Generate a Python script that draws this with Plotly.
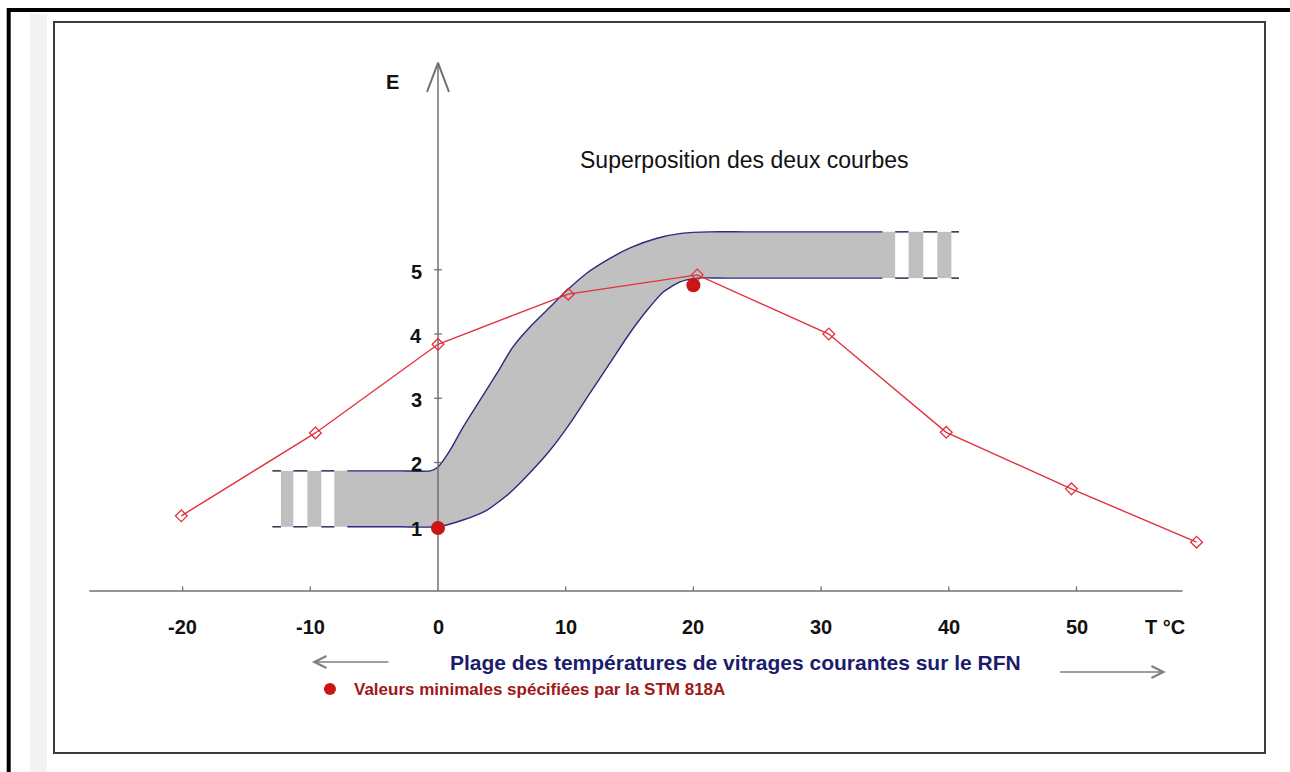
import plotly.graph_objects as go

# ---- data -------------------------------------------------------------
# Temperature ticks (°C) and E tick values
t_ticks = [-20, -10, 0, 10, 20, 30, 40, 50]
t_tick_labels = ["-20", "-10", "0", "10", "20", "30", "40", "50"]
e_ticks = [1, 2, 3, 4, 5]
e_tick_labels = ["1", "2", "3", "4", "5"]

# Red curve (open diamonds)
red_T = [-20.1, -9.6, 0.0, 10.2, 20.3, 30.6, 39.8, 49.6, 59.4]
red_E = [1.17, 2.46, 3.84, 4.62, 4.92, 4.00, 2.47, 1.59, 0.76]

# Minimum values specified by STM 818A (filled dots)
stm_T = [0.0, 20.0]
stm_E = [0.98, 4.76]

# Grey band: upper and lower boundary curves
upper_T = [-3.0, -0.6, 0.0, 0.94, 1.96, 3.29, 4.62, 5.87, 7.2, 8.77, 10.1, 11.67, 13.23, 15.04,
           17.15, 19.19, 21.3, 24.0]
upper_E = [1.87, 1.87, 1.93, 2.19, 2.55, 2.97, 3.39, 3.80, 4.11, 4.42, 4.68, 4.95, 5.15, 5.34,
           5.49, 5.57, 5.59, 5.59]
lower_T = [-3.0, 0.0, 1.96, 3.84, 5.64, 7.2, 8.77, 10.34, 11.9, 13.47, 15.04, 16.37, 17.62, 18.95,
           20.28, 22.5]
lower_E = [1.0, 1.0, 1.105, 1.26, 1.53, 1.84, 2.19, 2.61, 3.08, 3.55, 4.02, 4.37, 4.65, 4.81,
           4.87, 4.87]

# Flat levels of the band at both ends
band_left_low, band_left_high = 1.0, 1.87
band_right_low, band_right_high = 4.87, 5.59

# Band extents: solid border limits, main fill limits, striped ends
border_start, border_end = -7.1, 34.8
fill_start, fill_end = -8.12, 35.8
left_grey_stripes = [(-12.3, -11.33), (-10.23, -9.14)]
left_white_stripes = [(-12.97, -12.3), (-11.33, -10.23), (-9.14, -8.12)]
right_grey_stripes = [(36.85, 38.0), (39.1, 40.2)]
right_white_stripes = [(35.8, 36.85), (38.0, 39.1), (40.2, 40.8)]

# ---- layout geometry --------------------------------------------------
W, H = 1290, 772
ML, MR, MT, MB = 54, 25, 22, 19
X_RANGE = [-30.07, 64.76]
Y_RANGE = [-2.521, 8.856]
X_AXIS_SPAN = (-27.3, 58.3)
Y_AXIS_TOP = 8.22

GREY_FILL = "#c0c0c0"
BORDER = "#2a2a80"
AXIS = "#707070"
RED = "#e3303c"
DOT = "#cc1515"
NAVY_TEXT = "#1c1c6e"
RED_TEXT = "#a01818"
SANS = "Liberation Sans, Arial, sans-serif"
SMOOTH = 0.6

fig = go.Figure()

# main grey body of the band: lower edge, then upper edge filled down to it
body_lo_x = [fill_start] + lower_T + [fill_end]
body_lo_y = [band_left_low] + lower_E + [band_right_low]
body_up_x = [fill_start] + upper_T + [fill_end]
body_up_y = [band_left_high] + upper_E + [band_right_high]
fig.add_trace(go.Scatter(x=body_lo_x, y=body_lo_y, mode="lines",
                         line=dict(width=0, shape="spline", smoothing=SMOOTH),
                         hoverinfo="skip", showlegend=False))
fig.add_trace(go.Scatter(x=body_up_x, y=body_up_y, mode="lines", fill="tonexty",
                         fillcolor=GREY_FILL, line=dict(width=0, shape="spline", smoothing=SMOOTH),
                         hoverinfo="skip", showlegend=False))

# grey stripes at the band ends
for (a, b), lo, hi in ([(s, band_left_low, band_left_high) for s in left_grey_stripes]
                       + [(s, band_right_low, band_right_high) for s in right_grey_stripes]):
    fig.add_trace(go.Scatter(x=[a, b, b, a, a], y=[lo, lo, hi, hi, lo], fill="toself",
                             fillcolor=GREY_FILL, mode="lines", line=dict(width=0),
                             hoverinfo="skip", showlegend=False))

# band borders (solid part)
up_x = [border_start] + upper_T + [border_end]
up_y = [band_left_high] + upper_E + [band_right_high]
lo_x = [border_start] + lower_T + [border_end]
lo_y = [band_left_low] + lower_E + [band_right_low]
for xs, ys in ((up_x, up_y), (lo_x, lo_y)):
    fig.add_trace(go.Scatter(x=xs, y=ys, mode="lines",
                             line=dict(color=BORDER, width=1.4, shape="spline", smoothing=SMOOTH),
                             hoverinfo="skip", showlegend=False))

# dashed border pieces over the white gaps
dx, dy = [], []
for (a, b) in left_white_stripes:
    for lvl in (band_left_low, band_left_high):
        dx += [a, b, None]
        dy += [lvl, lvl, None]
for (a, b) in right_white_stripes:
    for lvl in (band_right_low, band_right_high):
        dx += [a, b, None]
        dy += [lvl, lvl, None]
fig.add_trace(go.Scatter(x=dx, y=dy, mode="lines", line=dict(color="#3a3a5a", width=1.6),
                         hoverinfo="skip", showlegend=False))

# axes drawn as lines through the data scale
fig.add_trace(go.Scatter(x=list(X_AXIS_SPAN), y=[0, 0], mode="lines",
                         line=dict(color=AXIS, width=1.5), hoverinfo="skip", showlegend=False))
fig.add_trace(go.Scatter(x=[0, 0], y=[0, Y_AXIS_TOP], mode="lines",
                         line=dict(color=AXIS, width=1.5), hoverinfo="skip", showlegend=False))
# arrow head on the E axis
fig.add_trace(go.Scatter(x=[-0.86, 0, 0.86], y=[Y_AXIS_TOP - 0.45, Y_AXIS_TOP, Y_AXIS_TOP - 0.45],
                         mode="lines", line=dict(color=AXIS, width=2), hoverinfo="skip",
                         showlegend=False))
# tick marks
tx, ty = [], []
for t in t_ticks:
    if t != 0:
        tx += [t, t, None]
        ty += [0, 0.07, None]
for e in e_ticks:
    tx += [-0.3, 0.3, None]
    ty += [e, e, None]
fig.add_trace(go.Scatter(x=tx, y=ty, mode="lines", line=dict(color=AXIS, width=1.3),
                         hoverinfo="skip", showlegend=False))

# red curve
fig.add_trace(go.Scatter(x=red_T, y=red_E, mode="lines+markers",
                         line=dict(color=RED, width=1.4),
                         marker=dict(symbol="diamond-open", size=9, color=RED,
                                     line=dict(width=1.3, color=RED)),
                         hoverinfo="skip", showlegend=False))

# STM 818A minimum values
fig.add_trace(go.Scatter(x=stm_T, y=stm_E, mode="markers",
                         marker=dict(size=14, color=DOT, line=dict(width=0)),
                         hoverinfo="skip", showlegend=False))

# ---- text --------------------------------------------------------------
ann = []
for t, lab in zip(t_ticks, t_tick_labels):
    ann.append(dict(x=t, y=-0.56, text=lab, showarrow=False, xanchor="center", yanchor="middle",
                    font=dict(family=SANS, size=20, color="#111111", weight="bold")))
ann.append(dict(x=56.9, y=-0.56, text="T °C", showarrow=False, xanchor="center", yanchor="middle",
                font=dict(family=SANS, size=20, color="#111111", weight="bold")))
for e, lab in zip(e_ticks, e_tick_labels):
    ann.append(dict(x=-1.1, y=e - 0.03, text=lab, showarrow=False, xanchor="right", yanchor="middle",
                    font=dict(family=SANS, size=20, color="#111111", weight="bold")))
ann.append(dict(x=-3.6, y=7.92, text="E", showarrow=False, xanchor="center", yanchor="middle",
                font=dict(family=SANS, size=20, color="#111111", weight="bold")))
ann.append(dict(x=24.0, y=6.71, text="Superposition des deux courbes", showarrow=False,
                xanchor="center", yanchor="middle",
                font=dict(family=SANS, size=23, color="#111111")))
ann.append(dict(x=23.3, y=-1.12, text="Plage des températures de vitrages courantes sur le RFN",
                showarrow=False, xanchor="center", yanchor="middle",
                font=dict(family=SANS, size=21, color=NAVY_TEXT, weight="bold")))
ann.append(dict(x=-6.73, y=-1.525, text="Valeurs minimales spécifiées par la STM 818A",
                showarrow=False, xanchor="left", yanchor="middle",
                font=dict(family=SANS, size=17, color=RED_TEXT, weight="bold")))
# range arrows
ann.append(dict(x=-9.87, y=-1.105, ax=-3.76, ay=-1.105, axref="x", ayref="y", xref="x", yref="y",
                text="", showarrow=True, arrowhead=5, arrowsize=1.8, arrowwidth=1.3,
                arrowcolor="#808080"))
ann.append(dict(x=57.0, y=-1.26, ax=48.6, ay=-1.26, axref="x", ayref="y", xref="x", yref="y",
                text="", showarrow=True, arrowhead=5, arrowsize=1.8, arrowwidth=1.3,
                arrowcolor="#808080"))

# legend dot
fig.add_trace(go.Scatter(x=[-8.46], y=[-1.525], mode="markers",
                         marker=dict(size=12, color=DOT), hoverinfo="skip", showlegend=False))

# ---- frames -------------------------------------------------------------
pw, ph = W - ML - MR, H - MT - MB
def px_x(p):
    return (p - ML) / pw
def px_y(p):
    return (H - MB - p) / ph

shapes = [
    # faint shading strip on the left margin
    dict(type="rect", xref="paper", yref="paper", x0=px_x(30), x1=px_x(47), y0=px_y(772), y1=px_y(14),
         fillcolor="#f3f3f3", line=dict(width=0), layer="below"),
    # inner frame
    dict(type="rect", xref="paper", yref="paper", x0=0, x1=1, y0=0, y1=1,
         line=dict(color="#3c3c3c", width=2)),
    # thick outer frame (top and left)
    dict(type="path", xref="paper", yref="paper",
         path=f"M {px_x(1290)},{px_y(10)} L {px_x(8.7)},{px_y(10)} L {px_x(8.7)},{px_y(772)}",
         line=dict(color="#000000", width=4)),
]

fig.update_layout(
    width=W, height=H,
    margin=dict(l=ML, r=MR, t=MT, b=MB),
    paper_bgcolor="white", plot_bgcolor="white",
    xaxis=dict(range=X_RANGE, visible=False, fixedrange=True),
    yaxis=dict(range=Y_RANGE, visible=False, fixedrange=True),
    annotations=ann, shapes=shapes, showlegend=False,
)

fig.write_html("out.html")
